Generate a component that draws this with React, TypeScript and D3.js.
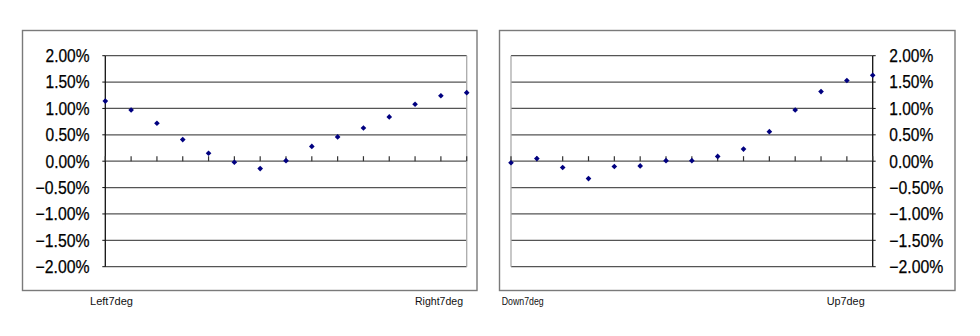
import React from "react";
import * as d3 from "d3";

const leftCategories = ["Left7deg", "", "", "", "", "", "", "", "", "", "", "", "", "", "Right7deg"];
const leftValues = [1.14, 0.97, 0.72, 0.41, 0.15, -0.02, -0.14, 0.01, 0.28, 0.46, 0.63, 0.84, 1.08, 1.24, 1.30];
const rightCategories = ["Down7deg", "", "", "", "", "", "", "", "", "", "", "", "", "", "Up7deg"];
const rightValues = [-0.03, 0.05, -0.12, -0.33, -0.1, -0.09, 0.01, 0.01, 0.09, 0.23, 0.56, 0.97, 1.32, 1.53, 1.63];
const yTicks = [2.0, 1.5, 1.0, 0.5, 0.0, -0.5, -1.0, -1.5, -2.0];

type PanelProps = {
  values: number[];
  categories: string[];
  frame: { x: number; y: number; w: number; h: number };
  plotX: [number, number];
  side: "left" | "right";
  labelX: number;
  catLabels: { x: number; w: number }[];
};

const fmt = (v: number) => (v < 0 ? "\u2212" : "") + Math.abs(v).toFixed(2) + "%";

function Panel({ values, categories, frame, plotX, side, labelX, catLabels }: PanelProps) {
  const y = d3.scaleLinear().domain([-2, 2]).range([266.7, 55.7]);
  const x = d3
    .scalePoint<number>()
    .domain(d3.range(values.length))
    .range(plotX);
  const y0 = y(0);
  const axisX = side === "left" ? plotX[0] : plotX[1];
  const otherX = side === "left" ? plotX[1] : plotX[0];
  const tickDir = side === "left" ? -1 : 1;
  const marker = d3.symbol(d3.symbolSquare, 16)() as string;
  const named = categories
    .map((c, i) => ({ c, i }))
    .filter((d) => d.c !== "");
  return (
    <g>
      <rect x={frame.x} y={frame.y} width={frame.w} height={frame.h} fill="#fff" stroke="#7a7a7a" strokeWidth={1.4} />
      {yTicks.map((t) => (
        <line key={"g" + t} x1={plotX[0]} x2={plotX[1]} y1={y(t)} y2={y(t)} stroke="#555" strokeWidth={1.3} />
      ))}
      <line x1={otherX} x2={otherX} y1={y(2)} y2={y(-2)} stroke="#aaa" strokeWidth={1.3} />
      <line x1={axisX} x2={axisX} y1={y(2)} y2={y(-2)} stroke="#111" strokeWidth={1.3} />
      {yTicks.map((t) => (
        <line key={"t" + t} x1={axisX} x2={axisX + tickDir * 3} y1={y(t)} y2={y(t)} stroke="#111" strokeWidth={1} />
      ))}
      {values.map((_, i) => (
        <line key={"c" + i} x1={x(i)} x2={x(i)} y1={y0} y2={y0 - 5} stroke="#333" strokeWidth={1.2} />
      ))}
      {yTicks.map((t) => (
        <text
          key={"l" + t}
          x={labelX}
          y={y(t) + 6.3}
          fontSize={17.5}
          fontFamily="Liberation Sans, Arial, sans-serif"
          fill="#000"
          stroke="#000"
          strokeWidth={0.25}
          textAnchor={side === "left" ? "end" : "start"}
          textLength={t < 0 ? 54 : 44}
          lengthAdjust="spacingAndGlyphs"
        >
          {fmt(t)}
        </text>
      ))}
      {values.map((v, i) => (
        <path key={"p" + i} d={marker} transform={`translate(${x(i)},${y(v)}) rotate(45)`} fill="#000080" />
      ))}
      {named.map((d, k) => (
        <text
          key={"cl" + d.i}
          x={catLabels[k].x}
          y={304.5}
          fontSize={11.5}
          fontFamily="Liberation Sans, Arial, sans-serif"
          fill="#111"
          textLength={catLabels[k].w}
          lengthAdjust="spacingAndGlyphs"
        >
          {d.c}
        </text>
      ))}
    </g>
  );
}

export default function App() {
  return (
    <svg width={980} height={336} style={{ position: "absolute", left: 0, top: 0, background: "#fff" }}>
      <rect x={0} y={0} width={980} height={336} fill="#fff" />
      <Panel
        values={leftValues}
        categories={leftCategories}
        frame={{ x: 22.5, y: 30.5, w: 454.5, h: 260 }}
        plotX={[105.3, 466.7]}
        side="left"
        labelX={89.5}
        catLabels={[{ x: 90, w: 43 }, { x: 415, w: 48 }]}
      />
      <Panel
        values={rightValues}
        categories={rightCategories}
        frame={{ x: 499.5, y: 30.5, w: 455.5, h: 260 }}
        plotX={[511, 872.7]}
        side="right"
        labelX={889.3}
        catLabels={[{ x: 501.7, w: 42 }, { x: 826.7, w: 38 }]}
      />
    </svg>
  );
}
